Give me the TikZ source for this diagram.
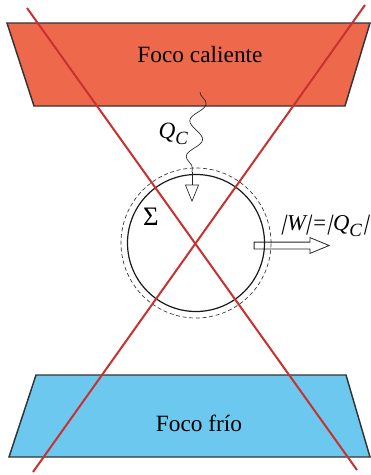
\documentclass[tikz,border=0pt]{standalone}
\usepackage{fontspec}
\setmainfont{Liberation Serif}
\usepackage{xcolor}
\usetikzlibrary{arrows.meta,decorations.pathmorphing,shapes.arrows}

\definecolor{hotred}{HTML}{EE694B}
\definecolor{coldblue}{HTML}{6CC8EF}
\definecolor{crossred}{HTML}{C8312F}

\newcommand{\subC}{{\fontsize{14}{14}\selectfont\raisebox{-0.75ex}{C}}}
\newcommand{\sbar}{\makebox[4.4pt]{\rotatebox[origin=c]{-14}{|}}}

\begin{document}
\begin{tikzpicture}[
  x=0.75pt, y=-0.75pt, >=Stealth,
  font=\fontsize{17.5}{21}\selectfont,
  foco/.style={draw=black!80,line width=1.1pt},
  cruz/.style={crossred,line width=1.5pt},
  calor/.style={decorate,decoration={snake,amplitude=5.5pt,segment length=27pt},
                black!85,line width=0.5pt},
  flecha/.style={-{Triangle[open,length=13pt,width=10.5pt]},black!85,line width=0.5pt},
  lab/.style={inner sep=1pt}
]
\useasboundingbox (0,0) rectangle (371,475);

% hot reservoir
\coordinate (HTL) at (7,23);
\coordinate (HTR) at (370,23);
\coordinate (HBR) at (345,106);
\coordinate (HBL) at (34,106);
\draw[foco,fill=hotred] (HTL) -- (HTR) -- (HBR) -- (HBL) -- cycle;
\node[lab] (hot) at (200,55) {Foco caliente};

% cold reservoir
\coordinate (CTL) at (36,375);
\coordinate (CTR) at (346,375);
\coordinate (CBR) at (370,457);
\coordinate (CBL) at (9,457);
\draw[foco,fill=coldblue] (CTL) -- (CTR) -- (CBR) -- (CBL) -- cycle;
\node[lab] (cold) at (199,423) {Foco frío};

% work output
\node[single arrow,draw=black!85,fill=white,line width=0.6pt,
      inner xsep=0pt,inner ysep=2.25pt,minimum height=56.25pt,
      single arrow head extend=3.4pt,single arrow tip angle=45] (work) at (287.5,245.5) {};

% system and its boundary
\node[circle,draw=black!90,line width=0.9pt,minimum size=102.75pt,inner sep=0pt] (sys) at (196,243) {};
\node[circle,draw=black!80,dashed,dash pattern=on 3pt off 2pt,line width=0.5pt,
      minimum size=112.5pt,inner sep=0pt] (front) at (196,243) {};
\node[lab] (sigma) at (151,217) {\fontsize{20}{20}\selectfont Σ};

% heat in
\coordinate (qin) at (200,92);
\coordinate (qmid) at (192,172);
\coordinate (qtip) at (192,202);
\draw[calor] (qin) -- (qmid);
\draw[flecha] (qmid) -- (qtip);
\node[lab,anchor=base west] (qlab) at (157,138) {\itshape Q\subC};
\node[lab,anchor=base west,inner sep=0pt] (wlab) at (281,230)
  {\fontsize{17}{20}\selectfont\itshape \sbar W\sbar=\sbar Q\subC\kern1.5pt\sbar};

% crossed out
\coordinate (X1a) at (27,8);
\coordinate (X1b) at (357,470);
\coordinate (X2a) at (365,5);
\coordinate (X2b) at (33,472);
\draw[cruz] (X1a) -- (X1b);
\draw[cruz] (X2a) -- (X2b);
\end{tikzpicture}
\end{document}
